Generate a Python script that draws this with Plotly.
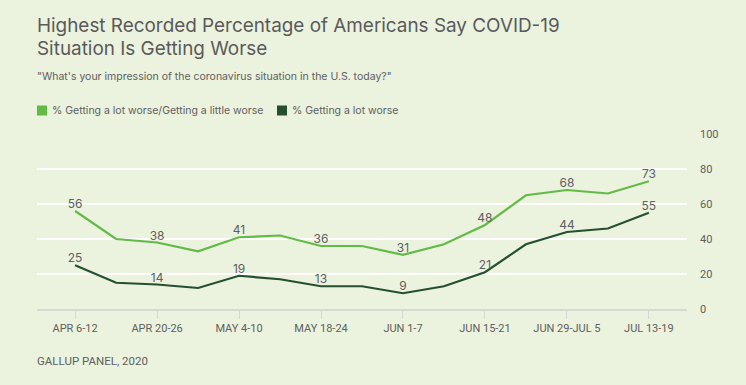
import plotly.graph_objects as go

categories = ["APR 6-12", "Apr 13-19", "APR 20-26", "Apr 27-May 3", "MAY 4-10", "May 11-17",
              "MAY 18-24", "May 25-31", "JUN 1-7", "Jun 8-14", "JUN 15-21", "Jun 22-28",
              "JUN 29-JUL 5", "Jul 6-12", "JUL 13-19"]
worse_any = [56, 40, 38, 33, 41, 42, 36, 36, 31, 37, 48, 65, 68, 66, 73]
worse_lot = [25, 15, 14, 12, 19, 17, 13, 13, 9, 13, 21, 37, 44, 46, 55]
series_names = ["% Getting a lot worse/Getting a little worse", "% Getting a lot worse"]
y_ticks = [0, 20, 40, 60, 80, 100]

LIGHT = "#62BB46"
DARK = "#24502F"
BG = "#EBF2DE"
TXT = "#606060"
FONT = "Inter"

W, H = 746, 385
ML, MR, MT, MB = 37, 59, 134, 76
PW, PH = W - ML - MR, H - MT - MB

def px_x(px):
    return (px - ML) / PW

def px_y(py):
    return (H - MB - py) / PH

x_idx = list(range(len(categories)))
labeled = [i for i in x_idx if i % 2 == 0]

def labels(vals):
    return [str(v) if i % 2 == 0 else "" for i, v in enumerate(vals)]

fig = go.Figure()
for name, vals, col in [(series_names[0], worse_any, LIGHT), (series_names[1], worse_lot, DARK)]:
    fig.add_trace(go.Scatter(
        x=x_idx, y=vals, mode="lines+text", text=labels(vals), name=name,
        textposition="top center", textfont=dict(size=12, color=TXT, family=FONT),
        line=dict(color=col, width=2.2), showlegend=False, hoverinfo="skip", cliponaxis=False))

fig.update_layout(
    width=W, height=H,
    paper_bgcolor=BG, plot_bgcolor=BG,
    margin=dict(l=ML, r=MR, t=MT, b=MB, autoexpand=False),
    font=dict(family=FONT, color=TXT),
    showlegend=False,
)

# Title lines
fig.add_annotation(text="Highest Recorded Percentage of Americans Say COVID-19",
                   xref="paper", yref="paper", x=px_x(35), xanchor="left", y=px_y(25), yanchor="middle",
                   showarrow=False, align="left", font=dict(size=18.9, color="#5a5a5a", family=FONT))
fig.add_annotation(text="Situation Is Getting Worse",
                   xref="paper", yref="paper", x=px_x(35), xanchor="left", y=px_y(49), yanchor="middle",
                   showarrow=False, align="left", font=dict(size=18.9, color="#5a5a5a", family=FONT))
fig.add_annotation(text="\"What's your impression of the coronavirus situation in the U.S. today?\"",
                   xref="paper", yref="paper", x=px_x(35), xanchor="left", y=px_y(76), yanchor="middle",
                   showarrow=False, align="left", font=dict(size=10.5, color=TXT, family=FONT))
fig.add_annotation(text="GALLUP PANEL, 2020",
                   xref="paper", yref="paper", x=px_x(35), xanchor="left", y=px_y(361), yanchor="middle",
                   showarrow=False, align="left", font=dict(size=11.5, color=TXT, family="Roboto"))

# Legend (manual, square swatches)
legend_x = [37, 277]
for name, col, lx in zip(series_names, [LIGHT, DARK], legend_x):
    fig.add_shape(type="rect", xref="paper", yref="paper",
                  x0=px_x(lx), x1=px_x(lx + 10), y0=px_y(115.5), y1=px_y(105.5),
                  fillcolor=col, line=dict(width=0))
    fig.add_annotation(text=name, xref="paper", yref="paper", x=px_x(lx + 13), xanchor="left",
                       y=px_y(110.5), yanchor="middle", showarrow=False,
                       font=dict(size=10.5, color=TXT, family=FONT))

fig.update_xaxes(range=[-0.93, 14.93], tickmode="array", tickvals=labeled,
                 ticktext=[categories[i] for i in labeled],
                 showgrid=False, zeroline=False, showline=True, linecolor="#d6d9d2", linewidth=2,
                 ticks="outside", ticklen=8, tickcolor="#d6d9d2", tickwidth=1,
                 tickfont=dict(size=11, color=TXT, family="Roboto"), fixedrange=True)
fig.update_yaxes(range=[0, 100], side="right", tickmode="array", tickvals=y_ticks,
                 showgrid=True, gridcolor="#ffffff", gridwidth=2, zeroline=False,
                 showline=False, ticks="", ticklabelstandoff=12,
                 tickfont=dict(size=11, color=TXT, family="Roboto"), fixedrange=True)

fig.write_html("out.html", config={"displayModeBar": False},
               post_script="document.body.style.margin='0';")
